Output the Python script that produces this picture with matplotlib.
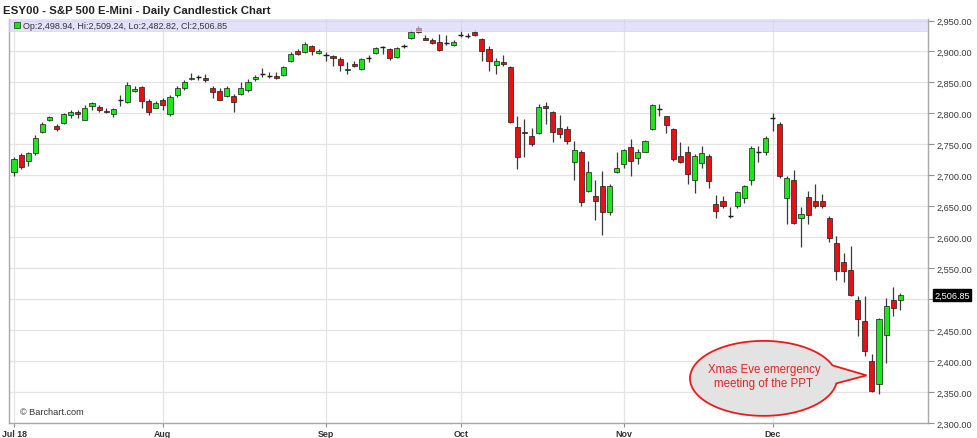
import numpy as np
import matplotlib
matplotlib.use("Agg")
import matplotlib.pyplot as plt
from matplotlib.patches import Polygon
import matplotlib.transforms as mtransforms

plt.rcParams['font.family'] = ['Liberation Sans', 'DejaVu Sans']

# ---------------- data (daily candles, Jul 2 2018 .. Dec 31 2018) ----------------
opens = [2705.4, 2733.5, 2723.3, 2736.8, 2769.2, 2789.7, 2780.0, 2784.3, 2797.3, 2802.7,
         2789.7, 2811.4, 2810.3, 2804.3, 2798.4, 2821.2, 2817.8, 2836.2, 2842.7, 2820.0,
         2809.2, 2822.2, 2798.4, 2829.7, 2840.5, 2855.7, 2858.9, 2857.8, 2840.5, 2836.2,
         2828.7, 2828.7, 2830.8, 2838.4, 2855.3, 2863.2, 2860.5, 2861.0, 2861.6, 2884.2,
         2901.0, 2899.0, 2908.4, 2897.9, 2895.0, 2892.0, 2888.4, 2870.0, 2880.0, 2872.0,
         2889.0, 2897.6, 2906.7, 2904.0, 2890.6, 2908.6, 2921.2, 2937.4, 2922.3, 2918.5,
         2915.4, 2913.7, 2910.5, 2926.6, 2925.6, 2931.0, 2920.2, 2904.0, 2878.2, 2883.6,
         2874.4, 2777.6, 2770.6, 2764.0, 2768.5, 2812.6, 2801.8, 2777.0, 2774.9, 2722.0,
         2738.3, 2675.4, 2667.3, 2683.4, 2641.4, 2705.0, 2717.6, 2745.3, 2727.6, 2738.3,
         2774.9, 2807.2, 2795.3, 2775.0, 2730.8, 2738.3, 2693.0, 2720.0, 2731.9, 2654.4,
         2659.0, 2634.0, 2649.9, 2662.8, 2692.9, 2738.1, 2738.1, 2792.0, 2782.8, 2662.8,
         2692.9, 2631.6, 2665.0, 2658.5, 2658.5, 2630.5, 2590.7, 2559.5, 2547.7, 2498.2,
         2464.8, 2400.3, 2363.7, 2442.2, 2499.3, 2498.94]
highs = [2729.7, 2735.7, 2737.8, 2765.0, 2785.4, 2796.2, 2782.2, 2800.5, 2804.9, 2806.0,
         2813.5, 2819.0, 2813.5, 2808.0, 2809.2, 2829.7, 2850.3, 2845.0, 2844.9, 2823.2,
         2820.0, 2825.4, 2829.7, 2843.8, 2854.0, 2865.4, 2862.2, 2863.2, 2843.8, 2841.6,
         2843.8, 2830.8, 2850.3, 2855.7, 2862.0, 2873.7, 2867.0, 2867.4, 2876.9, 2898.4,
         2904.2, 2915.8, 2910.5, 2904.2, 2899.0, 2894.7, 2890.5, 2883.2, 2884.2, 2889.5,
         2894.4, 2907.0, 2909.4, 2906.0, 2907.0, 2911.5, 2934.2, 2940.6, 2926.6, 2922.0,
         2928.4, 2927.4, 2919.0, 2934.2, 2929.9, 2935.3, 2921.3, 2909.4, 2889.0, 2894.4,
         2876.0, 2795.3, 2791.0, 2776.0, 2814.7, 2819.0, 2804.0, 2797.4, 2779.2, 2755.6,
         2740.4, 2723.2, 2693.0, 2707.6, 2685.5, 2737.2, 2742.5, 2758.8, 2742.5, 2757.7,
         2815.3, 2815.3, 2796.4, 2776.0, 2754.5, 2748.0, 2734.0, 2748.0, 2734.0, 2668.4,
         2667.0, 2648.3, 2674.6, 2684.3, 2747.8, 2747.8, 2762.9, 2800.5, 2786.5, 2698.3,
         2709.0, 2648.8, 2674.6, 2685.4, 2670.3, 2634.8, 2602.6, 2574.6, 2586.4, 2505.7,
         2505.1, 2411.0, 2470.2, 2501.4, 2519.7, 2509.24]
lows = [2699.0, 2709.7, 2715.0, 2732.4, 2768.0, 2787.6, 2771.4, 2782.2, 2793.0, 2793.0,
        2788.6, 2806.0, 2801.6, 2800.5, 2795.0, 2812.4, 2816.8, 2834.0, 2808.0, 2797.3,
        2808.1, 2804.9, 2795.1, 2826.5, 2837.3, 2854.6, 2854.6, 2851.4, 2825.4, 2821.0,
        2826.5, 2802.7, 2829.7, 2834.0, 2851.6, 2859.0, 2856.8, 2854.8, 2860.5, 2883.2,
        2893.7, 2897.9, 2893.7, 2895.8, 2885.3, 2876.3, 2868.4, 2864.2, 2874.8, 2869.5,
        2882.5, 2896.5, 2896.5, 2885.7, 2889.0, 2906.0, 2920.2, 2929.9, 2918.0, 2912.2,
        2901.4, 2910.0, 2909.4, 2923.4, 2921.2, 2924.5, 2885.2, 2869.0, 2863.2, 2876.0,
        2784.6, 2710.4, 2729.2, 2748.0, 2767.4, 2783.5, 2754.5, 2761.0, 2750.0, 2693.0,
        2651.2, 2672.7, 2628.6, 2603.7, 2636.0, 2704.0, 2712.0, 2699.6, 2717.6, 2737.3,
        2773.8, 2795.3, 2768.5, 2723.3, 2720.0, 2685.5, 2671.6, 2712.5, 2680.0, 2630.7,
        2647.8, 2631.6, 2647.8, 2655.3, 2684.3, 2722.0, 2732.8, 2772.0, 2696.2, 2620.8,
        2621.9, 2584.3, 2620.8, 2647.8, 2647.8, 2592.9, 2530.5, 2528.4, 2504.6, 2440.0,
        2408.9, 2349.7, 2346.5, 2397.0, 2472.4, 2482.82]
closes = [2727.0, 2713.0, 2735.7, 2759.5, 2783.3, 2794.0, 2774.6, 2798.4, 2802.7, 2799.5,
          2809.2, 2816.8, 2804.9, 2801.6, 2807.0, 2820.8, 2846.5, 2839.5, 2820.0, 2802.7,
          2816.8, 2813.5, 2826.5, 2840.5, 2851.4, 2857.8, 2858.4, 2853.5, 2835.1, 2822.2,
          2841.6, 2819.0, 2840.5, 2850.3, 2859.0, 2862.7, 2860.0, 2856.8, 2874.8, 2896.3,
          2896.3, 2912.0, 2901.0, 2901.0, 2894.7, 2889.5, 2877.9, 2872.0, 2876.9, 2887.5,
          2888.7, 2905.0, 2906.2, 2889.0, 2905.0, 2908.3, 2932.0, 2931.0, 2919.1, 2914.3,
          2902.5, 2913.2, 2914.8, 2926.1, 2925.0, 2926.6, 2901.3, 2885.2, 2884.7, 2880.4,
          2785.7, 2729.2, 2767.9, 2751.0, 2809.9, 2809.4, 2769.5, 2767.4, 2755.6, 2740.4,
          2656.5, 2705.0, 2659.3, 2641.4, 2683.4, 2711.5, 2740.4, 2723.8, 2737.3, 2756.0,
          2813.7, 2807.0, 2781.3, 2726.5, 2722.2, 2701.7, 2730.8, 2736.2, 2691.0, 2642.5,
          2650.5, 2633.8, 2672.5, 2682.2, 2744.0, 2738.4, 2760.7, 2792.5, 2699.4, 2696.2,
          2623.0, 2638.0, 2636.0, 2651.0, 2651.0, 2599.3, 2545.5, 2545.5, 2506.8, 2468.0,
          2416.4, 2351.9, 2468.0, 2489.7, 2485.3, 2506.85]

month_labels = ["Jul 18", "Aug", "Sep", "Oct", "Nov", "Dec"]
month_start_idx = [0, 21, 44, 63, 86, 107]   # first trading day of each month
y_ticks = [2300, 2350, 2400, 2450, 2500, 2550, 2600, 2650, 2700, 2750, 2800, 2850, 2900, 2950]
last_price = 2506.85
ohlc_text = "Op:2,498.94, Hi:2,509.24, Lo:2,482.82, Cl:2,506.85"
title = "ESY00 - S&P 500 E-Mini - Daily Candlestick Chart"
note = "Xmas Eve emergency\nmeeting of the PPT"

# ---------------- figure ----------------
W, H = 977, 439
fig = plt.figure(figsize=(W / 100, H / 100), dpi=100)
ax_l, ax_r, ax_t, ax_b = 9, 928, 19.5, 424
ax = fig.add_axes([ax_l / W, 1 - ax_b / H, (ax_r - ax_l) / W, (ax_b - ax_t) / H])

o = np.array(opens); h = np.array(highs); l = np.array(lows); c = np.array(closes)
x = np.arange(len(o))

GREEN = '#1EE61E'
RED = '#E81010'
up = c - o >= 1
dn = o - c >= 1
doji = ~(up | dn)

ax.vlines(x, l, h, color='#3a3a3a', lw=0.9, zorder=3)
ax.bar(x[up], (c - o)[up], bottom=o[up], width=0.72, color=GREEN,
       edgecolor='#1a1a1a', linewidth=0.5, zorder=4)
ax.bar(x[dn], (o - c)[dn], bottom=c[dn], width=0.72, color=RED,
       edgecolor='#1a1a1a', linewidth=0.5, zorder=4)
ax.hlines((o + c)[doji] / 2, x[doji] - 0.36, x[doji] + 0.36, color='#1a1a1a', lw=1.0, zorder=4)

ytop = 2900 + (52.5 - ax_t) * 50 / 30.97
ax.set_ylim(2300, ytop)
ax.set_xlim((ax_l - 14) / 7.09, (ax_r - 14) / 7.09)

# grid
ax.set_axisbelow(True)
ax.grid(True, color='#E4E4E4', lw=0.9)

# axes styling
ax.spines['top'].set_visible(False)
for s in ['left', 'right', 'bottom']:
    ax.spines[s].set_color('#A8A8A8')
    ax.spines[s].set_linewidth(1.0)

ax.yaxis.tick_right()
ax.set_yticks(y_ticks)
# the 2,500.00 label is hidden behind the last-price tag in the reference
ax.set_yticklabels(["" if abs(v - last_price) < 25 else f"{v:,.2f}" for v in y_ticks])
ax.tick_params(axis='y', which='both', direction='out', length=4, width=0.8,
               color='#909090', labelsize=6.6, labelcolor='#3a3a3a', pad=2)
ax.set_xticks(month_start_idx)
ax.set_xticklabels(month_labels, fontweight='bold')
ax.tick_params(axis='x', direction='out', length=3, width=0.8,
               color='#909090', labelsize=6.4, labelcolor='#333333', pad=1)

# header band (translucent lavender over candles)
band_bottom = 2900 + (52.5 - 32.5) * 50 / 30.97
ax.axhspan(band_bottom, ytop, facecolor='#D2CFF7', alpha=0.6, edgecolor='none', zorder=6)
ax.axhline(band_bottom, color='#D8D6EE', lw=0.6, zorder=6)
ax.plot([(17 - ax_l) / (ax_r - ax_l)], [1 - (26 - ax_t) / (ax_b - ax_t)], marker='s',
        ms=5, mfc='#22DD22', mec='#116611', mew=0.6, transform=ax.transAxes, zorder=7,
        clip_on=False)
ax.text((23 - ax_l) / (ax_r - ax_l), 1 - (26.5 - ax_t) / (ax_b - ax_t), ohlc_text,
        transform=ax.transAxes, fontsize=6.5, color='#333333', va='center', ha='left', zorder=7)

# last price tag
trans = mtransforms.blended_transform_factory(ax.transAxes, ax.transData)
ax.text(1 + 6 / (ax_r - ax_l), last_price, f"{last_price:,.2f}", transform=trans,
        fontsize=6.6, color='white', va='center', ha='left', zorder=8, clip_on=False,
        bbox=dict(boxstyle='square,pad=0.15', facecolor='black', edgecolor='black'))

# watermark
ax.text((20 - ax_l) / (ax_r - ax_l), (ax_b - 413) / (ax_b - ax_t), "\u00a9 Barchart.com",
        transform=ax.transAxes, fontsize=6.6, color='#333333', va='center', ha='left')

# title
fig.text(3 / W, 1 - 11 / H, title, fontsize=8.2, fontweight='bold', color='#222222',
         va='center', ha='left')

# callout bubble
def px2data(px, py):
    return ((px - 14) / 7.09, 2900 - (py - 52.5) * 50 / 30.97)

cxp, cyp, ap, bp = 763.5, 379.5, 73.5, 37.5
tip = (866.5, 376.5)
t1 = np.arcsin(13 / bp)          # upper attach angle
t2 = -np.arcsin(5 / bp)          # lower attach angle
ts = np.linspace(t1, 2 * np.pi + t2, 200)
pts = [px2data(cxp + ap * np.cos(t), cyp - bp * np.sin(t)) for t in ts]
pts.append(px2data(*tip))
bubble = Polygon(pts, closed=True, facecolor='#E3E3E3', edgecolor='#EE1A1A', lw=1.3, zorder=9)
ax.add_patch(bubble)
tx, ty = px2data(764, 377)
ax.text(tx, ty, note, fontsize=8.3, color='#E02222', ha='center', va='center',
        linespacing=1.15, zorder=10)

fig.savefig("out.png", dpi=100)
